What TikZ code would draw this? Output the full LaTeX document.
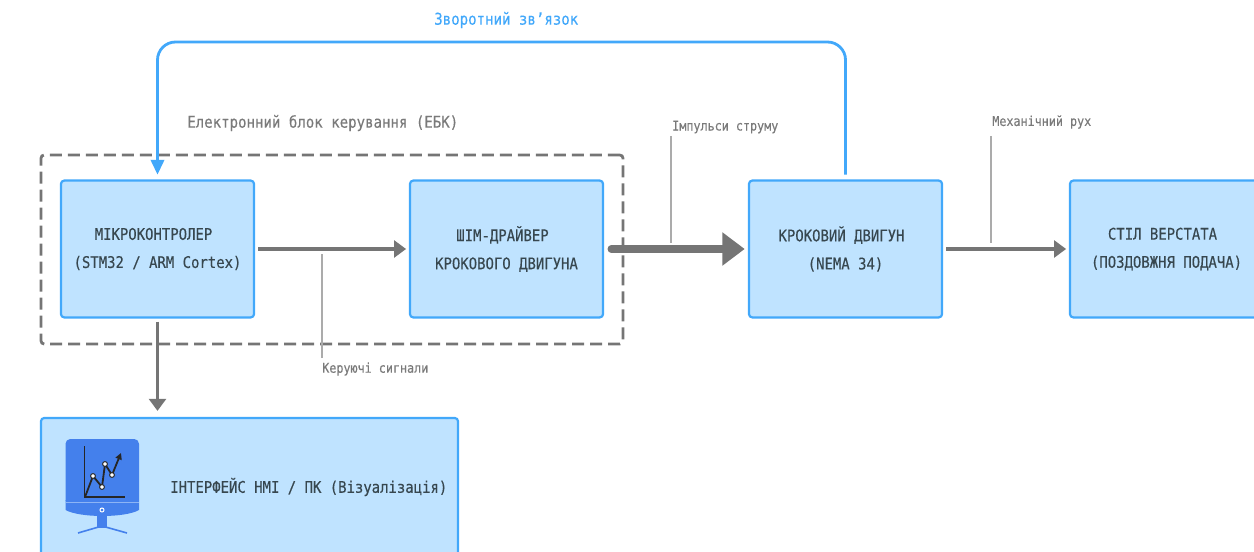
\documentclass[tikz,border=0pt]{standalone}
\usepackage{fontspec}
\setmainfont[FakeStretch=0.87,FakeBold=0.3]{DejaVu Sans Mono}
\usetikzlibrary{arrows.meta}

\definecolor{boxfill}{HTML}{BFE3FF}
\definecolor{boxline}{HTML}{42A8FA}
\definecolor{flowgrey}{HTML}{757575}
\definecolor{notegrey}{HTML}{7A7A7A}
\definecolor{leadgrey}{HTML}{ABABAB}
\definecolor{textdark}{HTML}{37474F}
\definecolor{iconblue}{HTML}{4480EC}
\definecolor{iconpale}{HTML}{8DB4F5}

\tikzstyle{blockbox} = [rectangle, rounded corners=0.8mm,
minimum width=48.25mm,
minimum height=34.2mm,
inner sep=0pt,
text badly centered,
text width=47mm,
draw=boxline,
line width=0.55mm,
fill=boxfill,
text=textdark,
font=\fontsize{11.4}{20}\selectfont]
\tikzstyle{group} = [rectangle, rounded corners=0.8mm,
minimum width=145.5mm,
minimum height=47.25mm,
draw=flowgrey,
line width=0.7mm,
dash pattern=on 3mm off 1.5mm]
\tikzstyle{flow} = [draw=flowgrey, line width=0.9mm,
-{Triangle[length=3mm,width=4.2mm]},
shorten <=0.8mm, shorten >=0.7mm]
\tikzstyle{bigflow} = [draw=flowgrey, line width=1.9mm, line cap=round,
-{Triangle[length=5.6mm,width=8mm]},
shorten <=1.8mm, shorten >=0.8mm]
\tikzstyle{fback} = [draw=boxline, line width=0.7mm, rounded corners=4.5mm,
-{Triangle[length=3.7mm,width=3.3mm]},
shorten <=1.2mm, shorten >=1.2mm]
\tikzstyle{lead} = [draw=leadgrey, line width=0.45mm]
\tikzstyle{note} = [text=notegrey, inner sep=0pt, anchor=west, font=\fontsize{9.6}{10}\selectfont]
\tikzstyle{title} = [text=notegrey, inner sep=0pt, anchor=west, font=\fontsize{11.5}{12}\selectfont]

\begin{document}
\begin{tikzpicture}[x=0.25mm, y=-0.25mm, node distance=8.725cm]
\useasboundingbox (0,0) rectangle (1254,552);
\clip (0,0) rectangle (1254,552);

\node (ebk) [group] at (332,249.5) {};
\node (ebktitle) [title] at (187,123) {Електронний блок керування (ЕБК)};

\node (mcu) [blockbox] at (157.5,249) {МІКРОКОНТРОЛЕР\hspace*{2mm}\par (STM32 / ARM Cortex)};
\node (driver) [blockbox, right of=mcu] {ШІМ-ДРАЙВЕР\hspace*{2mm}\par КРОКОВОГО ДВИГУНА};
\node (motor) [blockbox, right of=driver, xshift=-0.25cm] {КРОКОВИЙ ДВИГУН\hspace*{2mm}\par (NEMA 34)};
\node (table) [blockbox, right of=motor, xshift=-0.7cm] {СТІЛ ВЕРСТАТА\hspace*{2mm}\par (ПОЗДОВЖНЯ ПОДАЧА)};
\node (hmi) [blockbox, minimum width=104.25mm, minimum height=35.5mm] at (249.5,489) {};
\node (hmitext) [anchor=west, inner sep=0pt, text=textdark, font=\fontsize{11.4}{12}\selectfont] at (170,487) {ІНТЕРФЕЙС HMI / ПК (Візуалізація)};

% monitor icon
\fill [iconblue] (97,515) rectangle (107,528);
\draw [iconblue, line width=0.4mm] (78,533) -- (102,526) -- (127,533);
\fill [iconblue, rounded corners=1.2mm] (65.5,439) rectangle (139,505);
\fill [iconblue] (65.5,500) -- (139,500) -- (139,510) .. controls (125,518) and (80,518) .. (65.5,510) -- cycle;
\draw [iconpale, line width=0.25mm] (65.5,502) -- (139,502);
\draw [white, line width=0.25mm] (102,510) circle (2);
\draw [black!85, line width=0.4mm] (84.5,446) -- (84.5,497) -- (125,497);
\draw [black!85, line width=0.45mm, -{Triangle[length=1.6mm,width=1.6mm]}] (85,497) -- (93,476) -- (102,487) -- (105,464) -- (112,475) -- (121,453);
\foreach \px/\py in {93/476, 102/487, 105/464, 112/475}
  \filldraw [fill=white, draw=black!85, line width=0.25mm] (\px,\py) circle (2.4);

\draw [flow] (mcu) -- (driver);
\draw [bigflow] (driver) -- (motor);
\draw [flow] (motor) -- (table);
\draw [flow, line width=0.75mm, shorten >=1.5mm] (mcu.south) -- (mcu.south |- hmi.north);

\coordinate (fbtop) at (500,42);
\draw [fback] (motor.north) |- (fbtop) -| (mcu.north);
\node (fbtitle) [title, text=boxline] at (434,20) {Зворотний зв'язок};

\node (signals) [note] at (322,369) {Керуючі сигнали};
\node (pulses) [note] at (672,127) {Імпульси струму};
\node (motion) [note] at (992,122) {Механічний рух};
\coordinate (signalsend) at (322,254);
\coordinate (signalstop) at (322,358);
\coordinate (pulsesend) at (671,243);
\coordinate (pulsestop) at (671,136);
\coordinate (motionend) at (991,243);
\coordinate (motiontop) at (991,136);
\draw [lead] (signalstop) -- (signalsend);
\draw [lead] (pulsestop) -- (pulsesend);
\draw [lead] (motiontop) -- (motionend);
\end{tikzpicture}
\end{document}
